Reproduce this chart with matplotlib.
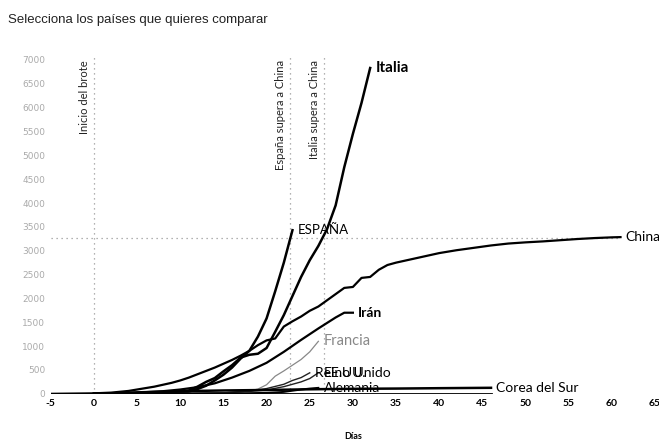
import matplotlib.pyplot as plt
import numpy as np

# --- datos (muertes acumuladas por días desde el inicio del brote) ---
china_dias = [-5, 0, 2, 4, 5, 7, 9, 10, 11, 12, 13, 14, 15, 16, 17, 18, 19, 20, 21, 22, 23, 24, 25, 26, 27, 28,
              29, 30, 31, 32, 33, 34, 35, 36, 37, 38, 40, 42, 44, 46, 48, 50, 52, 54, 56, 58, 60, 61]
china_val = [0, 10, 25, 60, 90, 150, 230, 280, 340, 410, 480, 550, 630, 710, 800, 900, 1020, 1120, 1160, 1410,
             1520, 1620, 1740, 1830, 1960, 2090, 2220, 2240, 2430, 2450, 2600, 2700, 2750, 2790, 2830, 2870,
             2950, 3010, 3060, 3110, 3150, 3175, 3195, 3220, 3245, 3265, 3280, 3285]

italia_dias = [0, 5, 8, 10, 11, 12, 13, 14, 15, 16, 17, 18, 19, 20, 21, 22, 23, 24, 25, 26, 27, 28, 29, 30, 31, 32]
italia_val = [0, 5, 20, 40, 70, 150, 250, 330, 470, 600, 760, 818, 840, 960, 1300, 1650, 2050, 2450, 2800,
              3100, 3450, 3950, 4750, 5450, 6100, 6830]

espana_dias = [0, 5, 8, 10, 11, 12, 13, 14, 15, 16, 17, 18, 19, 20, 21, 22, 23]
espana_val = [0, 5, 15, 30, 45, 100, 170, 280, 400, 550, 740, 900, 1200, 1580, 2150, 2750, 3430]

iran_dias = [0, 3, 5, 8, 10, 12, 14, 16, 18, 20, 22, 24, 26, 28, 29, 30]
iran_val = [0, 10, 25, 55, 90, 140, 220, 340, 480, 650, 880, 1130, 1370, 1600, 1700, 1700]

francia_dias = [0, 10, 15, 18, 19, 20, 21, 22, 23, 24, 25, 26]
francia_val = [0, 5, 20, 60, 100, 190, 370, 480, 600, 720, 880, 1100]

uk_dias = [0, 10, 15, 18, 20, 22, 23, 24, 25]
uk_val = [0, 5, 20, 60, 110, 200, 280, 340, 440]

eeuu_dias = [0, 10, 15, 18, 20, 22, 24, 25, 26]
eeuu_val = [0, 5, 20, 50, 80, 150, 250, 320, 440]

alemania_dias = [0, 15, 20, 22, 24, 25, 26]
alemania_val = [0, 5, 20, 40, 90, 110, 125]

corea_dias = [0, 2, 5, 8, 10, 15, 20, 25, 30, 35, 40, 46]
corea_val = [0, 10, 30, 45, 55, 70, 80, 95, 105, 110, 118, 126]

# líneas de referencia
eventos_x = [0, 22.7, 26.6]
eventos_txt = ["Inicio del brote", "España supera a China", "Italia supera a China"]
china_max = 3270

x_ticks = list(range(-5, 70, 5))
y_ticks = list(range(0, 7500, 500))

LBL = ['Lato', 'DejaVu Sans']

fig = plt.figure(figsize=(6.59, 4.41), dpi=100)
ax = fig.add_axes([0.077, 0.107, 0.917, 0.768])

# referencias punteadas
for xv, txt in zip(eventos_x, eventos_txt):
    ax.plot([xv, xv], [0, 7100], color='#999999', lw=0.9, ls=(0, (1, 3)), zorder=1)
    ax.text(xv - 0.4, 7000, txt, rotation=90, ha='right', va='top', fontsize=8,
            family=LBL, color='#222222')
ax.plot([-5, 61], [china_max, china_max], color='#999999', lw=0.9, ls=(0, (1, 3)), zorder=1)

# series
series = [
    (china_dias, china_val, 'black', 1.6, "China", 'normal', 'black', 10),
    (italia_dias, italia_val, 'black', 1.8, "Italia", 'bold', 'black', 11),
    (espana_dias, espana_val, 'black', 1.8, "ESPAÑA", 'normal', 'black', 9.5),
    (iran_dias, iran_val, 'black', 1.6, "Irán", 'bold', 'black', 10),
    (francia_dias, francia_val, '#888888', 0.9, "Francia", 'normal', '#888888', 10.5),
    (uk_dias, uk_val, '#222222', 1.0, "Reino Unido", 'normal', 'black', 10),
    (eeuu_dias, eeuu_val, '#222222', 1.0, "EE.UU.", 'normal', 'black', 10),
    (alemania_dias, alemania_val, 'black', 1.4, "Alemania", 'normal', 'black', 10),
    (corea_dias, corea_val, 'black', 1.8, "Corea del Sur", 'normal', 'black', 10),
]
for dias, val, col, lw, nombre, peso, tcol, fs in series:
    ax.plot(dias, val, color=col, lw=lw, zorder=3)
    ax.text(dias[-1] + 0.6, val[-1], nombre, ha='left', va='center', fontsize=fs,
            fontweight=peso, color=tcol, family=LBL, zorder=4)

# línea base
ax.plot([-5, 46], [0, 0], color='black', lw=2, zorder=2)

ax.set_xlim(-5, 65)
ax.set_ylim(0, 7100)
ax.set_xticks(x_ticks)
ax.set_yticks(y_ticks)
ax.set_xticklabels([str(t) for t in x_ticks], fontsize=7.5, fontweight='bold', family=LBL)
ax.set_yticklabels([str(t) for t in y_ticks], fontsize=6.5, color='#aaaaaa')
ax.tick_params(axis='both', length=0, pad=4)
for s in ax.spines.values():
    s.set_visible(False)
ax.set_xlabel("Días", fontsize=6.5, fontweight='bold', family=LBL, labelpad=17)

fig.text(0.012, 0.955, "Selecciona los países que quieres comparar", fontsize=9.5,
         color='#222222', family=['Liberation Sans', 'DejaVu Sans'], va='center')

fig.savefig("out.png", dpi=100)
